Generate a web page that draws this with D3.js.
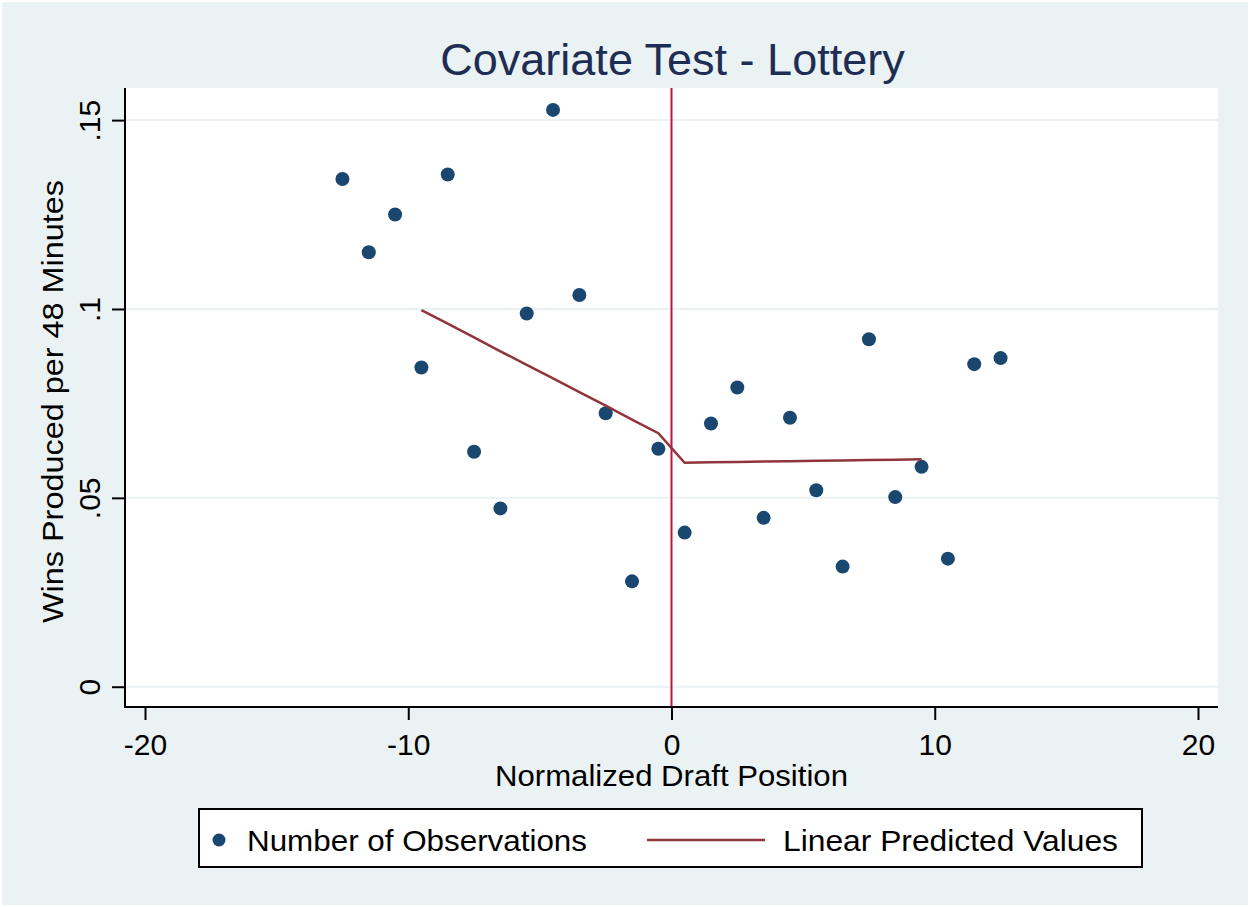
<!DOCTYPE html>
<html><head><meta charset="utf-8">
<script src="https://cdn.jsdelivr.net/npm/d3@7"></script>
<style>html,body{margin:0;padding:0;background:#fff;} svg{display:block;}</style>
</head><body>
<script>
const xPos = [-12.5,-11.5,-10.5,-9.5,-8.5,-7.5,-6.5,-5.5,-4.5,-3.5,-2.5,-1.5,-0.5,0.5,1.5,2.5,3.5,4.5,5.5,6.5,7.5,8.5,9.5,10.5,11.5,12.5];
const obsValues = [0.1344,0.1150,0.1250,0.0845,0.1356,0.0622,0.0472,0.0988,0.1527,0.1037,0.0724,0.0279,0.0630,0.0408,0.0697,0.0792,0.0447,0.0712,0.0520,0.0318,0.0920,0.0502,0.0582,0.0339,0.0854,0.0870];
const fitX = [-9.5,-8.5,-7.5,-6.5,-5.5,-4.5,-3.5,-2.5,-1.5,-0.5,0.5,1.5,2.5,3.5,4.5,5.5,6.5,7.5,8.5,9.5];
const fitValues = [0.0997,0.0961,0.0925,0.0888,0.0852,0.0816,0.0780,0.0744,0.0707,0.0671,0.0593,0.0594,0.0595,0.0596,0.0597,0.0598,0.0599,0.0600,0.0601,0.0602];
const xTicks = [-20,-10,0,10,20];
const xTickLabels = ["-20","-10","0","10","20"];
const yTicks = [0,0.05,0.1,0.15];
const yTickLabels = ["0",".05",".1",".15"];
const cutoff = 0;
const titleText = "Covariate Test - Lottery";
const xTitle = "Normalized Draft Position";
const yTitle = "Wins Produced per 48 Minutes";
const legendLabels = ["Number of Observations","Linear Predicted Values"];

const W = 1250, H = 907;
const bg = "#eaf2f3", navy = "#1a476f", maroon = "#90353b", vcol = "#c4123a";
const font = "'Liberation Sans', Arial, sans-serif";

const svg = d3.select("body").append("svg").attr("width", W).attr("height", H);
svg.append("rect").attr("x",2).attr("y",2).attr("width",W-4).attr("height",H-4).attr("fill",bg);

const L = 125, R = 1218, T = 88, B = 707;
const x = d3.scaleLinear().domain([-20.76, 20.76]).range([L, R]);
const y = d3.scaleLinear().domain([-0.00537, 0.1585]).range([B, T]);

svg.append("rect").attr("x",L).attr("y",T).attr("width",R-L).attr("height",B-T).attr("fill","#fff");

// gridlines
svg.append("g").selectAll("line").data(yTicks).join("line")
  .attr("x1",L).attr("x2",R).attr("y1",d=>y(d)).attr("y2",d=>y(d))
  .attr("stroke",bg).attr("stroke-width",2);

// vertical cutoff line
svg.append("line").attr("x1",x(cutoff)).attr("x2",x(cutoff)).attr("y1",T).attr("y2",B)
  .attr("stroke",vcol).attr("stroke-width",2);

// points
svg.append("g").selectAll("circle").data(xPos).join("circle")
  .attr("cx",d=>x(d)).attr("cy",(d,i)=>y(obsValues[i])).attr("r",7).attr("fill",navy);

// fit line
const line = d3.line().x(d=>x(d[0])).y(d=>y(d[1]));
svg.append("path").datum(fitX.map((d,i)=>[d,fitValues[i]])).attr("d",line)
  .attr("fill","none").attr("stroke",maroon).attr("stroke-width",2.5);

// axes
const xAxis = d3.axisBottom(x).tickValues(xTicks).tickSize(13).tickPadding(8).tickFormat((d,i)=>xTickLabels[i]);
const gx = svg.append("g").attr("transform",`translate(0,${B})`).call(xAxis);
gx.select(".domain").remove();
gx.append("line").attr("x1",L-1).attr("x2",R).attr("y1",0).attr("y2",0).attr("stroke","#000").attr("stroke-width",2);
gx.selectAll(".tick line").attr("stroke","#000").attr("stroke-width",2);
gx.selectAll(".tick text").attr("font-family",font).attr("font-size",30).attr("fill","#000")
  .attr("dy",null).attr("y",48);

const yAxis = d3.axisLeft(y).tickValues(yTicks).tickSize(13).tickFormat((d,i)=>yTickLabels[i]);
const gy = svg.append("g").attr("transform",`translate(${L},0)`).call(yAxis);
gy.select(".domain").remove();
gy.append("line").attr("x1",0).attr("x2",0).attr("y1",T).attr("y2",B+1).attr("stroke","#000").attr("stroke-width",2);
gy.selectAll(".tick line").attr("stroke","#000").attr("stroke-width",2);
gy.selectAll(".tick text").attr("font-family",font).attr("font-size",30).attr("fill","#000")
  .attr("x",null).attr("dy",null).attr("text-anchor","middle")
  .attr("transform","translate(-25,0) rotate(-90)");

// titles
svg.append("text").attr("x",672.5).attr("y",75).attr("text-anchor","middle")
  .attr("font-family",font).attr("font-size",45).attr("fill","#1e2d53").text(titleText);
svg.append("text").attr("x",671.5).attr("y",786).attr("text-anchor","middle")
  .attr("font-family",font).attr("font-size",29).attr("fill","#000")
  .attr("textLength",353).attr("lengthAdjust","spacingAndGlyphs").text(xTitle);
svg.append("text").attr("transform",`translate(63,401.5) rotate(-90)`).attr("text-anchor","middle")
  .attr("font-family",font).attr("font-size",29).attr("fill","#000")
  .attr("textLength",443).attr("lengthAdjust","spacingAndGlyphs").text(yTitle);

// legend
const lg = svg.append("g");
lg.append("rect").attr("x",199).attr("y",809).attr("width",943).attr("height",58)
  .attr("fill","#fff").attr("stroke","#000").attr("stroke-width",2);
lg.append("circle").attr("cx",219).attr("cy",840).attr("r",6.5).attr("fill",navy);
lg.append("text").attr("x",247).attr("y",851).attr("font-family",font).attr("font-size",29).attr("fill","#000")
  .attr("textLength",340).attr("lengthAdjust","spacingAndGlyphs").text(legendLabels[0]);
lg.append("line").attr("x1",647).attr("x2",765).attr("y1",840).attr("y2",840).attr("stroke",maroon).attr("stroke-width",2.5);
lg.append("text").attr("x",783).attr("y",851).attr("font-family",font).attr("font-size",29).attr("fill","#000")
  .attr("textLength",335).attr("lengthAdjust","spacingAndGlyphs").text(legendLabels[1]);
</script>
</body></html>
